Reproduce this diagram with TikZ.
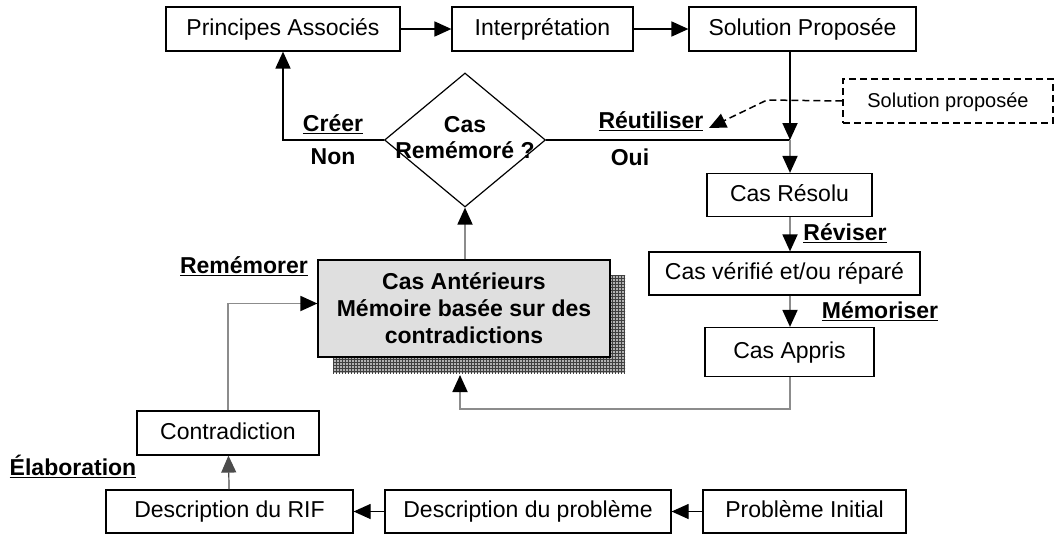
\documentclass[tikz,border=0pt]{standalone}
\usepackage{fontspec}
\setmainfont{Liberation Sans}
\usepackage{tikz}
\usetikzlibrary{shapes,arrows,positioning,calc,patterns,arrows.meta}

\begin{document}
\begin{tikzpicture}[x=1pt,y=-1pt,
    box/.style={draw,line width=1.2pt,minimum height=44pt,inner sep=0pt,text height=16pt,text depth=4pt,font=\fontsize{23}{27}\selectfont},
    arr/.style={line width=1.8pt,-{Triangle[length=17pt,width=15pt]}},
    garr/.style={draw=gray!90,line width=1.8pt,-{Triangle[length=17pt,width=15pt,color=black]}},
    lbl/.style={font=\fontsize{23}{27}\selectfont\bfseries}]
        \useasboundingbox (0,0) rectangle (1054,533);

        % Top row
        \node[box,minimum width=234pt] (pa) at (283,29) {Principes Associ\'es};
        \node[box,minimum width=181pt] (interp) at (542.5,29) {Interpr\'etation};
        \node[box,minimum width=227pt] (sp) at (802.5,29) {Solution Propos\'ee};
        \draw[arr] (pa) -- (interp);
        \draw[arr] (interp) -- (sp);

        % Decision
        \node[draw,line width=1.2pt,shape=diamond,minimum width=161pt,minimum height=134pt,inner sep=0pt] (cas) at (465,140) {};
        \node[lbl,align=center,font=\fontsize{23}{26}\selectfont\bfseries] (castxt) at (465,138) {Cas\\Rem\'emor\'e ?};
        \coordinate (j) at (790,140);
        \draw[arr] (cas.west) -| (pa.south);
        \draw[line width=1.8pt] (cas.east) -- (j);
        \draw[arr] (sp.south -| j) -- (j);
        \node[lbl] (creer) at (333,124) {\underline{Cr\'eer}};
        \node[lbl] (non) at (333,157) {Non};
        \node[lbl] (reut) at (651,121) {\underline{R\'eutiliser}};
        \node[lbl] (oui) at (630,157) {Oui};

        % Dashed note
        \node[box,dash pattern=on 7pt off 4pt,minimum width=210pt,font=\fontsize{20}{24}\selectfont] (sprop) at (948,101) {Solution propos\'ee};
        \coordinate (bend) at (767,100);
        \coordinate (tip) at (709,128);
        \draw[dash pattern=on 7pt off 4pt,line width=1.5pt,-{Triangle[length=17pt,width=15pt]}] (sprop.west) -- (bend) -- (tip);

        % Right column
        \node[box,minimum width=165pt,minimum height=43pt] (cr) at (789.5,195) {Cas R\'esolu};
        \node[box,minimum width=271pt,minimum height=43pt] (cv) at (784.5,273.5) {Cas v\'erifi\'e et/ou r\'epar\'e};
        \node[box,minimum width=169pt,minimum height=49pt] (ca) at (789.5,352) {Cas Appris};
        \draw[garr] (j) -- (j |- cr.north);
        \draw[garr] (cr.south -| j) -- (cv.north -| j);
        \draw[garr] (cv.south -| j) -- (ca.north -| j);
        \node[lbl] (rev) at (845,233) {\underline{R\'eviser}};
        \node[lbl] (memo) at (880,311) {\underline{M\'emoriser}};

        % Memory
        \fill[gray!60] (333,275) rectangle (625,373);
        \fill[pattern=grid,pattern color=black!75] (333,275) rectangle (625,373);
        \node[box,fill=gray!25,minimum width=292pt,minimum height=97pt,text height=,text depth=,font=\fontsize{23}{27}\selectfont\bfseries,align=center] (mem) at (464,308.5) {Cas Ant\'erieurs\\M\'emoire bas\'ee sur des\\contradictions};
        \draw[garr] (mem.north -| cas) -- (cas.south);
        \coordinate (back) at (460,409);
        \draw[garr] (ca.south -| j) |- (back) -- (460,375);
        \node[lbl] (rem) at (244,266) {\underline{Rem\'emorer}};

        % Bottom row
        \node[box,minimum width=182pt] (ctr) at (228,433) {Contradiction};
        \node[box,minimum width=247pt,minimum height=43pt] (rif) at (229.5,511.5) {Description du RIF};
        \node[box,minimum width=286pt,minimum height=43pt] (dp) at (528,511.5) {Description du probl\`eme};
        \node[box,minimum width=203pt,minimum height=43pt] (pi) at (804.5,511.5) {Probl\`eme Initial};
        \draw[arr,line width=1.2pt] (pi) -- (dp);
        \draw[arr,line width=1.2pt] (dp) -- (rif);
        \draw[arr,line width=1.2pt,draw=black!70] (rif) -- (ctr);
        \draw[garr] (ctr.north) |- ([yshift=5pt]mem.west);
        \node[lbl] (elab) at (73,466) {\underline{\'Elaboration}};
    \end{tikzpicture}
\end{document}
